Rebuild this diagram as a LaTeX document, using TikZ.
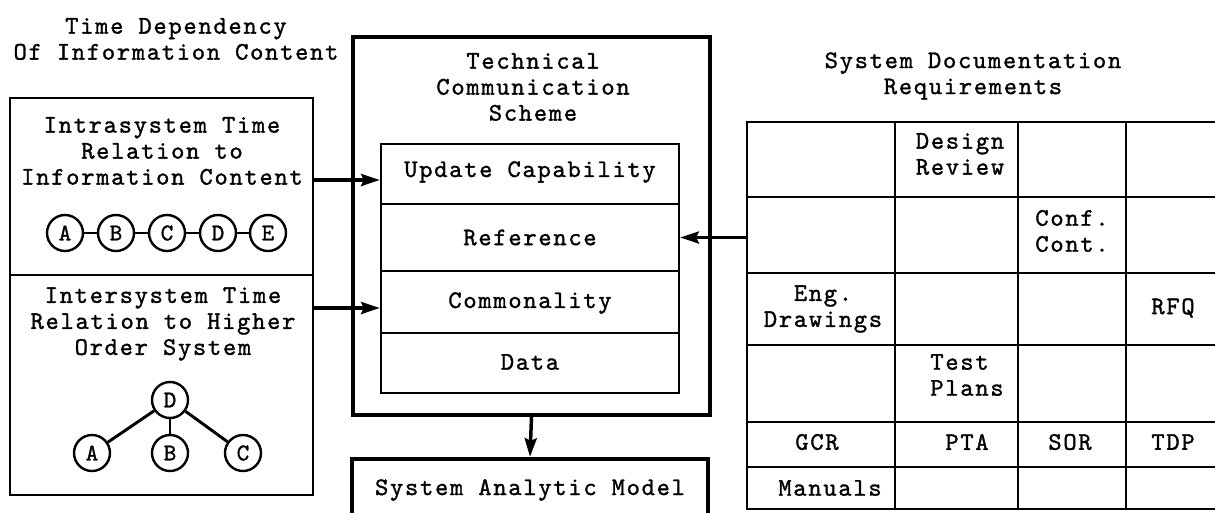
\documentclass[tikz,border=0pt]{standalone}
\usepackage{fontspec}
\newfontfamily\tw{lmmono10-regular.otf}[LetterSpace=6.7, FakeBold=1.2]
\usetikzlibrary{fit,arrows.meta,calc}
\begin{document}
\begin{tikzpicture}[x=0.75pt,y=-0.75pt,
  every node/.style={font=\tw\fontsize{19}{19.5}\selectfont, inner sep=0pt},
  txt/.style={align=center},
  lft/.style={align=left},
  lbox/.style={draw, line width=2.2pt, inner sep=0pt},
  bigbox/.style={draw, line width=3.2pt, inner sep=0pt},
  cell/.style={draw, line width=1.8pt, inner sep=0pt},
  circ/.style={draw, circle, line width=1.8pt, minimum size=27pt, inner sep=0pt, font=\tw\fontsize{18}{18}\selectfont},
  arr/.style={line width=2.6pt, -{Stealth[length=14pt,width=9pt,inset=2pt]}},
  link/.style={line width=2.2pt},
  tline/.style={line width=2.2pt, line cap=rect}]
\useasboundingbox (0,0) rectangle (1215,512);
\clip (0,0) rectangle (1215,512);

% left title
\node[txt] (tdtitle) at (176,39) {Time Dependency\\Of Information Content};

% left boxes
\node[lbox, fit={(10,98)(313,275)}] (intra) {};
\node[lbox, fit={(10,275)(313,495)}] (inter) {};
\node[txt] (intratxt) at (162,151) {Intrasystem Time\\Relation to\\Information Content};
\node[txt] (intertxt) at (163,324) {Intersystem Time\\Relation to Higher\\Order System};

% chain
\node[circ] (ca) at (65,233) {A};
\node[circ] (cb) at (116,233) {B};
\node[circ] (cc) at (167,233) {C};
\node[circ] (cd) at (218,233) {D};
\node[circ] (ce) at (268,233) {E};
\draw[link] (ca) -- (cb);
\draw[link] (cb) -- (cc);
\draw[link] (cc) -- (cd);
\draw[link] (cd) -- (ce);

% tree
\node[circ] (td) at (170,400) {D};
\node[circ] (ta) at (92,453) {A};
\node[circ] (tb) at (170,453) {B};
\node[circ] (tc) at (243,453) {C};
\draw[link] (td) -- (ta);
\draw[link] (td) -- (tb);
\draw[link] (td) -- (tc);

% technical communication scheme
\node[bigbox, fit={(353,37)(710,415)}] (tcs) {};
\node[txt] (tcstitle) at (533,87) {Technical\\Communication\\Scheme};
\node[cell, fit={(381,144)(679,204)}] (upd) {};
\node[cell, fit={(381,204)(679,271)}] (ref) {};
\node[cell, fit={(381,271)(679,333)}] (comm) {};
\node[cell, fit={(381,333)(679,393)}] (data) {};
\node (updt) at ($(upd)+(0,-2)$) {Update Capability};
\node (reft) at ($(ref)+(0,0)$) {Reference};
\node (commt) at ($(comm)+(0,1)$) {Commonality};
\node (datat) at ($(data)+(0,-1)$) {Data};

% system analytic model
\node[bigbox, fit={(352,459)(708,540)}] (sam) {};
\node (samt) at (530,490) {System Analytic Model};

% table
\node[txt] (sdr) at (973,76) {System Documentation\\Requirements};
\node[fit={(747,122)(1260,509)}, inner sep=0pt] (tbl) {};
\foreach \yy in {122,197,273,345,422,467,509}
  \draw[tline] (747,\yy) -- (1260,\yy);
\foreach \xx in {747,895,1018,1126}
  \draw[tline] (\xx,122) -- (\xx,509);
\node[lft] (dr) at (960,154) {Design\\Review};
\node[lft] (cfc) at (1072,231) {Conf.\\Cont.};
\node[txt] (eng) at (823,309) {Eng.\\Drawings};
\node (rfq) at (1173,308) {RFQ};
\node[lft] (tp) at (967,375) {Test\\Plans};
\node (gcr) at (817,442) {GCR};
\node (pta) at (967,442) {PTA};
\node (sor) at (1070,442) {SOR};
\node (tdp) at (1173,442) {TDP};
\node (man) at (830,488) {Manuals};

% arrows
\draw[arr] ($(intra.east |- upd.west)+(0,6)$) -- ($(upd.west)+(0,6)$);
\draw[arr] ($(inter.east |- comm.west)+(0,6)$) -- ($(comm.west)+(0,6)$);
\draw[arr] (tbl.west |- ref.east) -- (ref.east);
\draw[arr] (tcs.south) -- (sam.north);
\end{tikzpicture}
\end{document}
